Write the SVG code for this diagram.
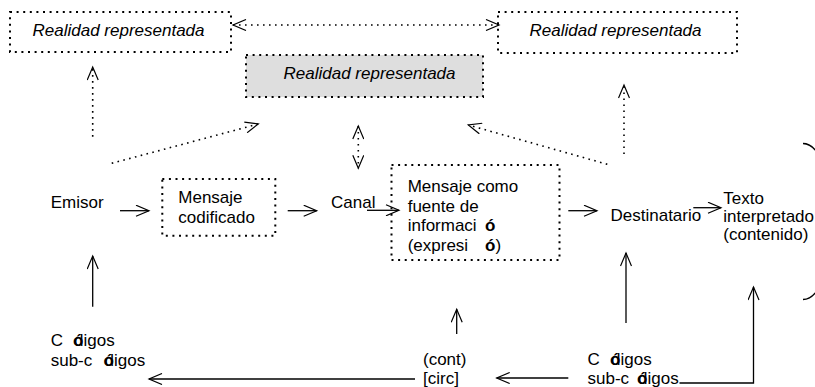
<svg xmlns="http://www.w3.org/2000/svg" width="815" height="387" viewBox="0 0 815 387">
<style>
text{font-family:"Liberation Sans",Arial,sans-serif;font-size:17px;fill:#000}
.it{font-style:italic}
.b{font-weight:bold}
.box{fill:none;stroke:#000;stroke-width:2;stroke-dasharray:2 4.6}
.gray{fill:#dedede}
.ln{fill:none;stroke:#000;stroke-width:1.3}
.dot{fill:none;stroke:#000;stroke-width:1.6;stroke-dasharray:1.6 4.4}
</style>
<defs>
<marker id="ah" markerUnits="userSpaceOnUse" markerWidth="16" markerHeight="12" refX="14" refY="6" orient="auto-start-reverse" viewBox="0 0 16 12">
<path d="M1,0.5 L14,6 L1,11.5" fill="none" stroke="#000" stroke-width="1.2"/>
</marker>
</defs>
<rect width="815" height="387" fill="#fff"/>

<g id="realidad-izq">
<rect class="box" x="10" y="12" width="221" height="40"/>
<text class="it" x="32.5" y="35.5">Realidad representada</text>
</g>
<g id="realidad-der">
<rect class="box" x="498" y="12" width="239" height="41"/>
<text class="it" x="529.5" y="35.5">Realidad representada</text>
</g>
<g id="realidad-centro">
<rect class="box gray" x="246" y="55" width="237" height="42"/>
<text class="it" x="283.5" y="79">Realidad representada</text>
</g>

<g id="emisor"><text x="50.7" y="208.3">Emisor</text></g>
<g id="mensaje-codificado">
<rect class="box" x="162.3" y="179" width="113" height="56.7"/>
<text x="178.3" y="203.3">Mensaje</text>
<text x="178.3" y="223.3">codificado</text>
</g>
<g id="canal"><text x="331" y="208.3">Canal</text></g>
<g id="mensaje-fuente">
<rect class="box" x="391.5" y="165" width="168" height="95"/>
<text x="407.7" y="192">Mensaje como</text>
<text x="407.7" y="211.5">fuente de</text>
<text x="407.7" y="231">informaci<tspan class="b" x="485">ó</tspan></text>
<text x="407.7" y="250.5">(expresi<tspan class="b" x="485">ó</tspan>)</text>
</g>
<g id="destinatario"><text x="610.5" y="221">Destinatario</text></g>
<g id="texto-interpretado">
<text x="723.3" y="204.3">Texto</text>
<text x="723.3" y="222.3">interpretado</text>
<text x="723.3" y="240.3">(contenido)</text>
</g>
<g id="codigos-izq">
<text x="50.7" y="346">C<tspan class="b" x="73">ó</tspan><tspan x="74">digos</tspan></text>
<text x="50.7" y="366">sub-c<tspan class="b" x="103.5">ó</tspan><tspan x="104.5">digos</tspan></text>
</g>
<g id="cont-circ">
<text x="423" y="365">(cont)</text>
<text x="423" y="383.5">[circ]</text>
</g>
<g id="codigos-der">
<text x="587.5" y="364.5">C<tspan class="b" x="610">ó</tspan><tspan x="611">digos</tspan></text>
<text x="587.5" y="383.5">sub-c<tspan class="b" x="637">ó</tspan><tspan x="638">digos</tspan></text>
</g>
<g id="arco"><path class="ln" d="M803,143.5 A30,78 0 0 1 803,299.5"/></g>

<g id="connectors">
<line class="dot" x1="233" y1="25" x2="499" y2="25" marker-start="url(#ah)" marker-end="url(#ah)"/>
<line class="dot" x1="92.7" y1="136.7" x2="92.7" y2="67" marker-end="url(#ah)"/>
<line class="dot" x1="111.7" y1="163.3" x2="258.3" y2="124" marker-end="url(#ah)"/>
<line class="dot" x1="358.3" y1="126" x2="358.3" y2="168.3" marker-start="url(#ah)" marker-end="url(#ah)"/>
<line class="dot" x1="624" y1="154" x2="624" y2="85" marker-end="url(#ah)"/>
<line class="dot" x1="607.3" y1="164.3" x2="468.3" y2="125" marker-end="url(#ah)"/>

<line class="ln" x1="120" y1="210.7" x2="149" y2="210.7" marker-end="url(#ah)"/>
<line class="ln" x1="287.7" y1="210.7" x2="316.7" y2="210.7" marker-end="url(#ah)"/>
<line class="ln" x1="367" y1="210.3" x2="399" y2="210.3" marker-end="url(#ah)"/>
<line class="ln" x1="568.3" y1="210.7" x2="597" y2="210.7" marker-end="url(#ah)"/>
<line class="ln" x1="693.3" y1="207.7" x2="721" y2="207.7" marker-end="url(#ah)"/>

<line class="ln" x1="92.7" y1="306.7" x2="92.7" y2="256" marker-end="url(#ah)"/>
<line class="ln" x1="456.7" y1="334" x2="456.7" y2="309.3" marker-end="url(#ah)"/>
<line class="ln" x1="626" y1="323" x2="626" y2="253" marker-end="url(#ah)"/>
<polyline class="ln" points="679.5,383 753.5,383 753.5,287" marker-end="url(#ah)"/>
<line class="ln" x1="568.3" y1="378" x2="496.7" y2="378" marker-end="url(#ah)"/>
<line class="ln" x1="415" y1="379" x2="149" y2="379" marker-end="url(#ah)"/>
</g>
</svg>
